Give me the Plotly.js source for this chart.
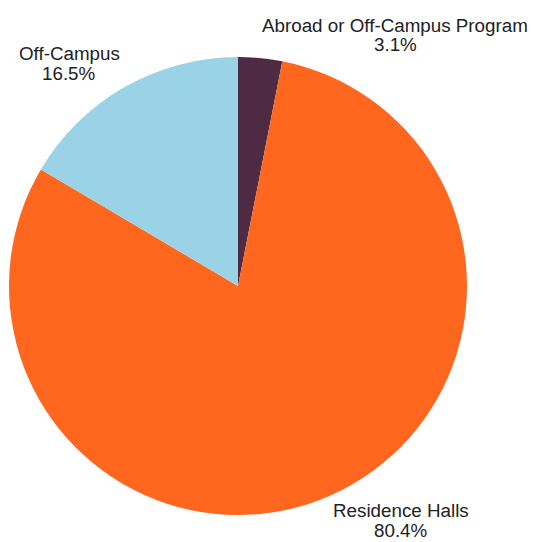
<!DOCTYPE html>
<html>
<head>
<meta charset="utf-8">
<script src="https://cdn.plot.ly/plotly-3.0.1.min.js"></script>
<style>html,body{margin:0;padding:0;background:#fff;}#chart{width:533px;height:542px;}</style>
</head>
<body>
<div id="chart"></div>
<script>
var categories = ["Abroad or Off-Campus Program", "Residence Halls", "Off-Campus"];
var shares = [3.1, 80.4, 16.5];
var sliceColors = ["#4F2A43", "#FF671F", "#9BD3E6"];

// label anchor positions in pixels (centre x, first-line middle y)
var labelPos = [[395, 25], [401, 510.5], [69, 53.5]];

var W = 533, H = 542;
var M = {l: 9, r: 66, t: 57, b: 27};
var pw = W - M.l - M.r, ph = H - M.t - M.b;
function px2x(px) { return (px - M.l) / pw; }
function py2y(py) { return (H - M.b - py) / ph; }

var total = shares.reduce(function (a, b) { return a + b; }, 0);
var fontSpec = {family: "Arial, 'Liberation Sans', sans-serif", size: 18.8, color: "#222222"};

var annotations = [];
categories.forEach(function (c, i) {
  var p = labelPos[i];
  annotations.push({
    xref: "paper", yref: "paper", x: px2x(p[0]), y: py2y(p[1]),
    xanchor: "center", yanchor: "middle", showarrow: false,
    text: c, font: fontSpec
  });
  annotations.push({
    xref: "paper", yref: "paper", x: px2x(p[0]), y: py2y(p[1] + 20),
    xanchor: "center", yanchor: "middle", showarrow: false,
    text: (shares[i] / total * 100).toFixed(1) + "%", font: fontSpec
  });
});

var trace = {
  type: "pie",
  labels: categories,
  values: shares,
  sort: false,
  direction: "clockwise",
  rotation: 0,
  marker: {colors: sliceColors, line: {width: 0}},
  textinfo: "none",
  textposition: "none",
  showlegend: false,
  hoverinfo: "none"
};

var layout = {
  width: W,
  height: H,
  margin: M,
  paper_bgcolor: "#ffffff",
  plot_bgcolor: "#ffffff",
  font: fontSpec,
  showlegend: false,
  annotations: annotations
};

Plotly.newPlot("chart", [trace], layout, {displayModeBar: false, staticPlot: true});
</script>
</body>
</html>
